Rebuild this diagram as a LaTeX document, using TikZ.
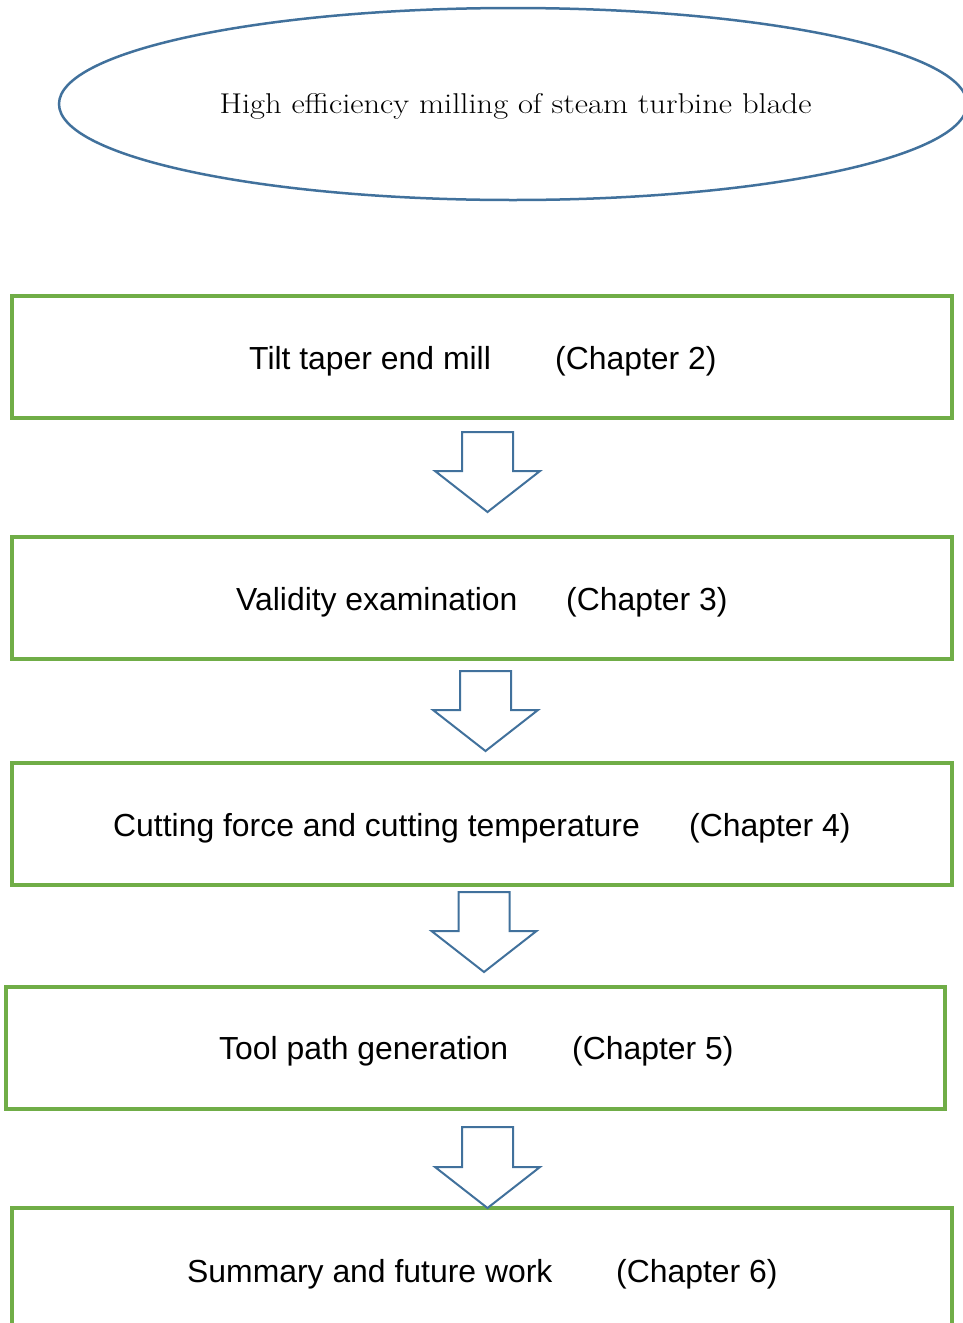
\documentclass[tikz,border=0pt]{standalone}
\usepackage{fontspec}
\setsansfont{Liberation Sans}
\usetikzlibrary{shapes.geometric}
\definecolor{boxgreen}{HTML}{70AD47}
\definecolor{arrowblue}{HTML}{41719C}
\tikzset{
  stagebox/.style={draw=boxgreen, line width=3.5pt, fill=white},
  stagetext/.style={anchor=west, inner sep=0pt, font=\sffamily\fontsize{31.9}{38}\selectfont},
  blockarrow/.style={draw=arrowblue, line width=2pt, line join=miter, fill=white},
  titleellipse/.style={draw=arrowblue, line width=2.5pt, ellipse, minimum width=908pt, minimum height=192pt, inner sep=0pt}
}
% #1 center x, #2 top y, #3 shoulder y, #4 tip y
\newcommand\downblock[4]{%
  \draw[blockarrow] (#1-25.5,#2) -- (#1+25.5,#2) -- (#1+25.5,#3) -- (#1+52.5,#3)
    -- (#1,#4) -- (#1-52.5,#3) -- (#1-25.5,#3) -- cycle;}
\begin{document}
\begin{tikzpicture}[x=1pt,y=-1pt]
\useasboundingbox (0,0) rectangle (963,1323);
\clip (0,0) rectangle (963,1323);
\node[titleellipse] (goal) at (513,104) {};
\node[inner sep=0pt, font=\fontsize{28.6}{34}\selectfont] (goaltext) at (515.5,106) {\scalebox{1.137}[1]{High efficiency milling of steam turbine blade}};

\node[stagebox, minimum width=940pt, minimum height=122pt, inner sep=0pt] (b1) at (482,357) {};
\node[stagebox, minimum width=940pt, minimum height=122pt, inner sep=0pt] (b2) at (482,598) {};
\node[stagebox, minimum width=940pt, minimum height=122pt, inner sep=0pt] (b3) at (482,824) {};
\node[stagebox, minimum width=939pt, minimum height=122pt, inner sep=0pt] (b4) at (475.5,1048) {};
\node[stagebox, minimum width=940pt, minimum height=200pt, inner sep=0pt] (b5) at (482,1308) {};

\node[stagetext] (t1) at (249,361) {Tilt taper end mill};
\node[stagetext] (c1) at (555,361) {(Chapter 2)};
\node[stagetext] (t2) at (236,602) {Validity examination};
\node[stagetext] (c2) at (566,602) {(Chapter 3)};
\node[stagetext] (t3) at (113,828) {Cutting force and cutting temperature};
\node[stagetext] (c3) at (689,828) {(Chapter 4)};
\node[stagetext] (t4) at (219,1051) {Tool path generation};
\node[stagetext] (c4) at (572,1051) {(Chapter 5)};
\node[stagetext] (t5) at (187,1274) {Summary and future work};
\node[stagetext] (c5) at (616,1274) {(Chapter 6)};

\downblock{487.5}{432}{471}{512}
\downblock{485.5}{671}{710}{751}
\downblock{484}{892}{931}{972}
\downblock{487.5}{1127}{1167}{1208}
\end{tikzpicture}
\end{document}
